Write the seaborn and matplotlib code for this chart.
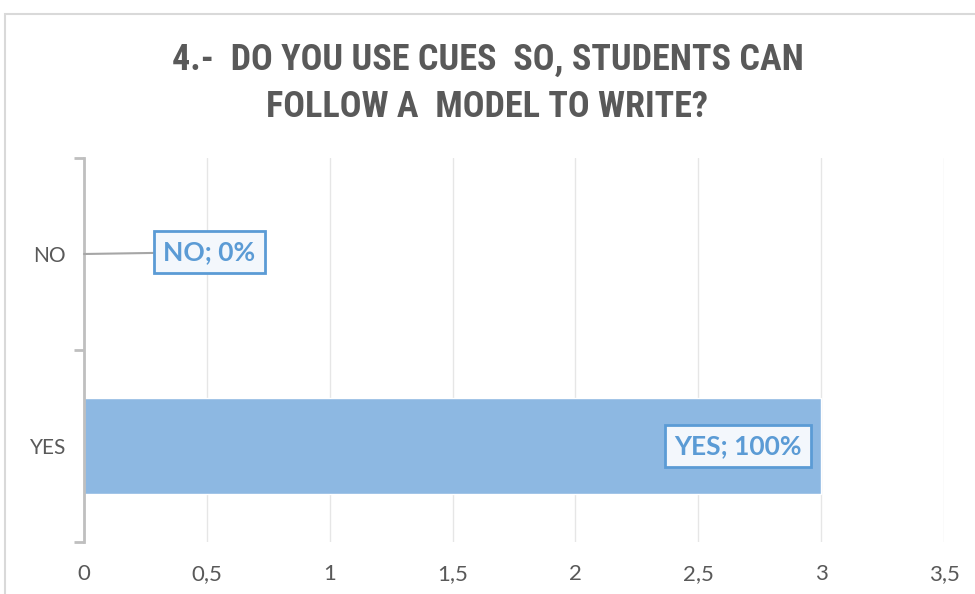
import seaborn as sns
import matplotlib.pyplot as plt
import pandas as pd
from matplotlib.patches import Rectangle
from matplotlib import font_manager

categories = ["NO", "YES"]
counts = [0, 3]
percent_labels = ["0%", "100%"]
x_ticks = [0, 0.5, 1, 1.5, 2, 2.5, 3, 3.5]
x_tick_labels = ["0", "0,5", "1", "1,5", "2", "2,5", "3", "3,5"]
title = "4.-  DO YOU USE CUES  SO, STUDENTS CAN\nFOLLOW A  MODEL TO WRITE?"

BLUE = "#5B9BD5"
BAR = "#8DB8E2"
GREY_TXT = "#595959"


def pick_font(names):
    installed = {f.name for f in font_manager.fontManager.ttflist}
    for n in names:
        if n in installed:
            return n
    return "DejaVu Sans"


def main():
    sns.set_style("white")
    body_font = pick_font(["Lato", "Open Sans", "DejaVu Sans"])
    title_font = pick_font(["Liberation Sans Narrow", "Roboto Condensed", "Lato"])
    plt.rcParams["font.family"] = [body_font, "DejaVu Sans"]

    df = pd.DataFrame({"answer": categories, "count": counts})

    fig = plt.figure(figsize=(9.75, 5.94), dpi=100)
    fig.patches.append(Rectangle((5 / 975, -0.1), 1.2, 1 - 14 / 594 + 0.1,
                                 transform=fig.transFigure, fill=False,
                                 edgecolor="#D9D9D9", linewidth=1.5))
    ax = fig.add_axes([84 / 975, 1 - 542 / 594, (944 - 84) / 975, (542 - 158) / 594])

    sns.barplot(data=df, x="count", y="answer", order=categories, color=BAR,
                saturation=1, width=0.5, ax=ax, zorder=2)

    ax.set_xlim(0, 3.5)
    ax.set_ylim(1.5, -0.5)
    ax.set_xticks(x_ticks)
    ax.set_xticklabels(x_tick_labels)
    ax.set_xlabel("")
    ax.set_ylabel("")
    ax.grid(axis="x", color="#E6E6E6", linewidth=1, zorder=0)
    ax.grid(axis="y", visible=False)
    for s in ["top", "right", "bottom"]:
        ax.spines[s].set_visible(False)
    ax.spines["left"].set_color("#BFBFBF")
    ax.spines["left"].set_linewidth(2)
    ax.spines["left"].set_zorder(3)
    ax.tick_params(axis="x", length=0, pad=16, labelsize=16, labelcolor=GREY_TXT)
    ax.tick_params(axis="y", which="major", left=False, length=0, pad=13,
                   labelsize=15, labelcolor=GREY_TXT)
    ax.set_yticks([-0.5, 0.5, 1.5], minor=True)
    ax.tick_params(axis="y", which="minor", left=True, length=7, width=2,
                   color="#BFBFBF")

    box = dict(boxstyle="square,pad=0.35", facecolor="#F3F7FC",
               edgecolor=BLUE, linewidth=2)
    for i, (cat, val, pct) in enumerate(zip(categories, counts, percent_labels)):
        text = f"{cat}; {pct}"
        if val == 0:
            ax.annotate(text, xy=(val, i), xytext=(val + 0.51, i - 0.01),
                        ha="center", va="center", fontsize=19, fontweight="bold",
                        color=BLUE, bbox=box, zorder=5,
                        arrowprops=dict(arrowstyle="-", color="#A6A6A6", lw=1.5,
                                        shrinkA=0, shrinkB=0))
        else:
            ax.text(val - 0.34, i, text, ha="center", va="center", fontsize=19,
                    fontweight="bold", color=BLUE, bbox=box, zorder=5)

    fig.text(0.5, 1 - 83 / 594, title, ha="center", va="center", fontsize=26,
             fontweight="bold", color=GREY_TXT, linespacing=1.4,
             family=[title_font, "DejaVu Sans"])

    fig.savefig("out.png", dpi=100)


if __name__ == "__main__":
    main()
